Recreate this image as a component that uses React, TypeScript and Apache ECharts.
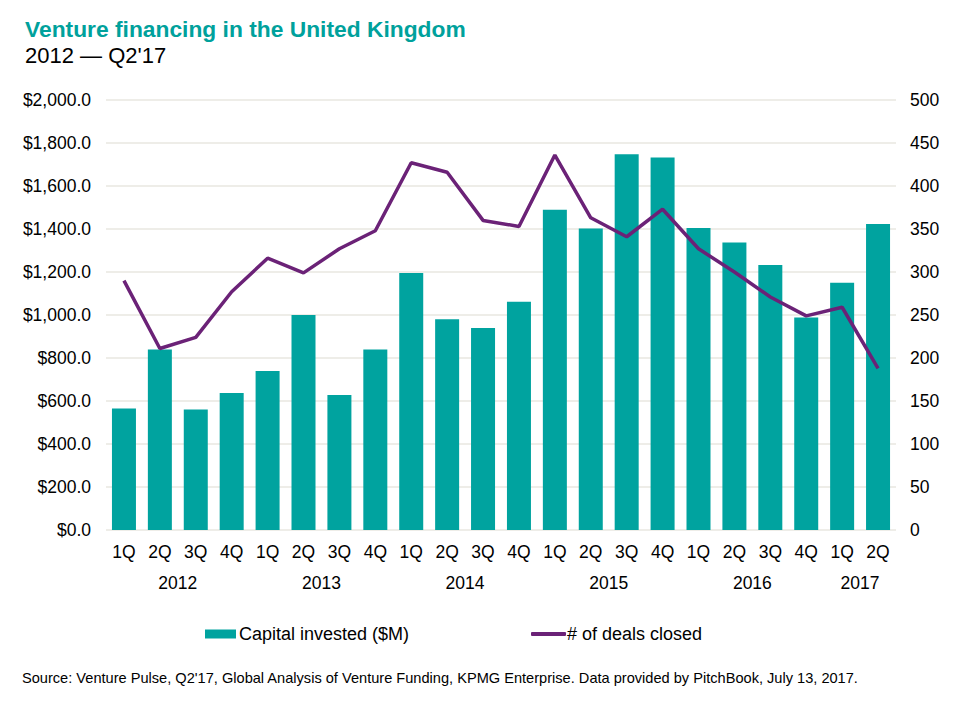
import React, { useEffect, useRef } from "react";
import * as echarts from "echarts";

const quarters = ["1Q","2Q","3Q","4Q","1Q","2Q","3Q","4Q","1Q","2Q","3Q","4Q","1Q","2Q","3Q","4Q","1Q","2Q","3Q","4Q","1Q","2Q"];
const years = ["2012","2013","2014","2015","2016","2017"];
const quartersPerYear = [4, 4, 4, 4, 4, 2];
const capitalInvested = [565, 840, 560, 637, 740, 1000, 628, 840, 1195, 980, 940, 1062, 1490, 1402, 1748, 1733, 1405, 1337, 1233, 988, 1150, 1423];
const dealsClosed = [290, 211, 224, 277, 316, 299, 327, 348, 427, 416, 360, 353, 436, 363, 341, 373, 327, 300, 271, 249, 259, 188];
const leftTicks = { min: 0, max: 2000, interval: 200 };
const rightTicks = { min: 0, max: 500, interval: 50 };

const TEAL = "#00a39f";
const PURPLE = "#6b2277";
const FONT = "Liberation Sans, Arial, sans-serif";
const AXIS_FS = 17.5;

export default function App() {
  const ref = useRef<HTMLDivElement>(null);
  useEffect(() => {
    if (!ref.current) return;
    const chart = echarts.init(ref.current, undefined, { renderer: "svg" });
    const yearCenters: Record<number, string> = {};
    let acc = 0;
    quartersPerYear.forEach((n, i) => {
      yearCenters[acc + n / 2] = years[i];
      acc += n;
    });
    const gridColor = "#e9e7e0";
    chart.setOption({
      animation: false,
      textStyle: { fontFamily: FONT },
      title: {
        text: "Venture financing in the United Kingdom",
        subtext: "2012 — Q2'17",
        left: 20,
        top: 12,
        itemGap: 4,
        textStyle: { fontFamily: FONT, fontSize: 22.8, fontWeight: "bold", color: "#00a19c" },
        subtextStyle: { fontFamily: FONT, fontSize: 22, color: "#000" },
      },
      grid: { left: 106, right: 64, top: 100, bottom: 175 },
      legend: [
        {
          left: 200, top: 620, itemWidth: 31, itemHeight: 9, itemGap: 4,
          data: [{ name: "Capital invested ($M)", icon: "rect" }],
          textStyle: { fontFamily: FONT, fontSize: 18, color: "#000", padding: [0, 0, 0, -2] },
        },
        {
          left: 526, top: 620, itemWidth: 35, itemHeight: 4,
          data: [{ name: "# of deals closed", icon: "roundRect" }],
          textStyle: { fontFamily: FONT, fontSize: 18, color: "#000", padding: [0, 0, 0, -4] },
        },
      ],
      xAxis: [
        {
          type: "category",
          data: quarters,
          axisLine: { show: false },
          axisTick: { show: false },
          axisLabel: { color: "#000", fontSize: AXIS_FS, margin: 13, fontFamily: FONT },
        },
        {
          type: "value",
          position: "bottom",
          min: 0,
          max: quarters.length,
          interval: 0.5,
          axisLine: { show: false },
          axisTick: { show: false },
          splitLine: { show: false },
          axisLabel: {
            color: "#000", fontSize: AXIS_FS, margin: 44, fontFamily: FONT, showMinLabel: true, showMaxLabel: true,
            formatter: (v: number) => yearCenters[v] ?? "",
          },
        },
      ],
      yAxis: [
        {
          type: "value",
          ...leftTicks,
          axisLine: { show: false },
          axisTick: { show: false },
          splitLine: { lineStyle: { color: gridColor, width: 1.5 } },
          axisLabel: {
            color: "#000", fontSize: AXIS_FS, margin: 15, fontFamily: FONT,
            formatter: (v: number) => "$" + v.toLocaleString("en-US", { minimumFractionDigits: 1, maximumFractionDigits: 1 }),
          },
        },
        {
          type: "value",
          ...rightTicks,
          axisLine: { show: false },
          axisTick: { show: false },
          splitLine: { show: false },
          axisLabel: { color: "#000", fontSize: AXIS_FS, margin: 14, fontFamily: FONT },
        },
      ],
      series: [
        {
          name: "Capital invested ($M)",
          type: "bar",
          data: capitalInvested,
          barWidth: 24,
          itemStyle: { color: TEAL },
          xAxisIndex: 0,
          yAxisIndex: 0,
        },
        {
          name: "# of deals closed",
          type: "line",
          data: dealsClosed,
          xAxisIndex: 0,
          yAxisIndex: 1,
          symbol: "none",
          lineStyle: { color: PURPLE, width: 3.5 },
          itemStyle: { color: PURPLE },
        },
      ],
      graphic: [
        {
          type: "text",
          left: 22,
          top: 670,
          style: {
            text: "Source: Venture Pulse, Q2'17, Global Analysis of Venture Funding, KPMG Enterprise. Data provided by PitchBook, July 13, 2017.",
            fontFamily: FONT,
            fontSize: 14.6,
            fill: "#000",
          },
        },
      ],
    });
    return () => chart.dispose();
  }, []);
  return <div ref={ref} style={{ width: 960, height: 705, position: "absolute", left: 0, top: 0 }} />;
}
